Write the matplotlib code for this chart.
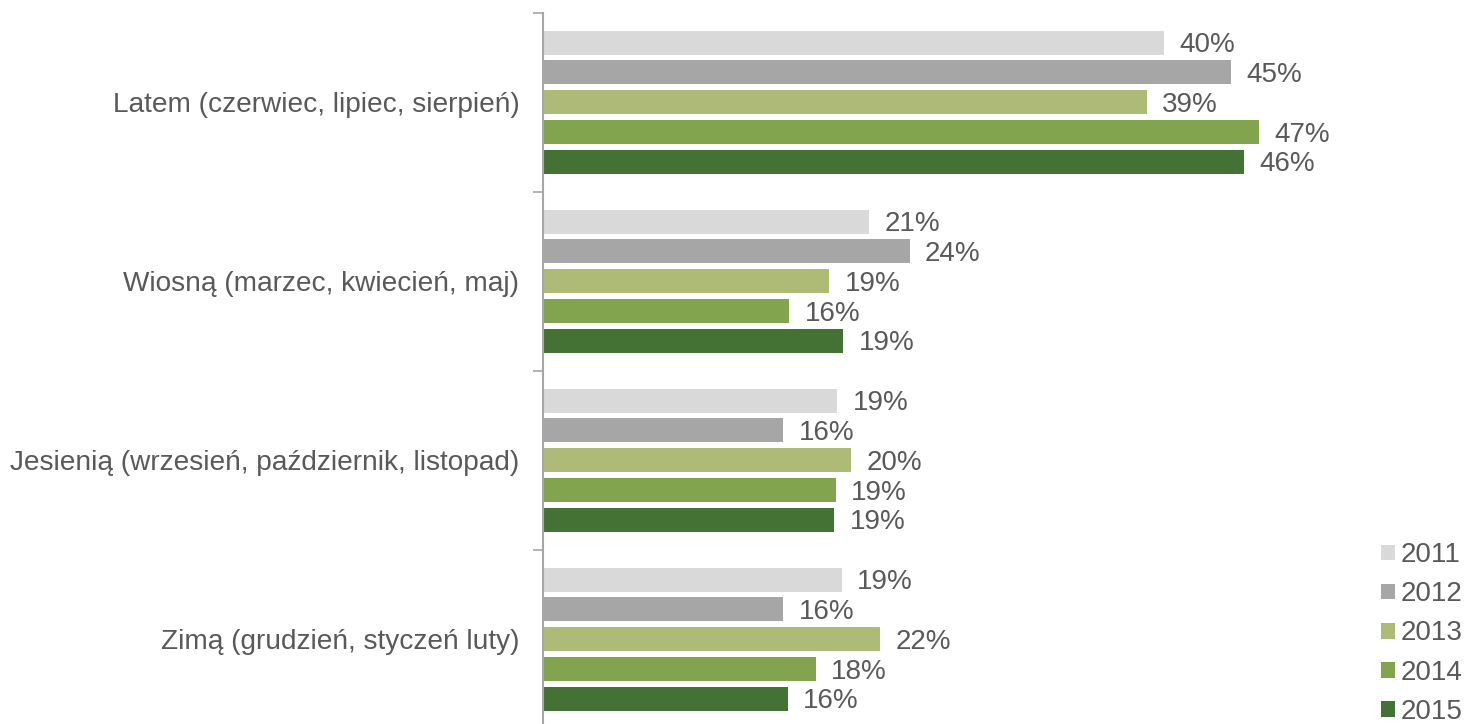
import matplotlib
matplotlib.use("Agg")
import matplotlib.pyplot as plt
from matplotlib.patches import Patch
import numpy as np

plt.rcParams["font.family"] = ["Liberation Sans", "DejaVu Sans"]

categories = [
    "Latem (czerwiec, lipiec, sierpień)",
    "Wiosną (marzec, kwiecień, maj)",
    "Jesienią (wrzesień, październik, listopad)",
    "Zimą (grudzień, styczeń luty)",
]
years = ["2011", "2012", "2013", "2014", "2015"]
# share of respondents (%), one list per year, categories in order above
v2011 = [40.3, 21.2, 19.1, 19.4]
v2012 = [44.7, 23.8, 15.6, 15.6]
v2013 = [39.2, 18.6, 20.0, 21.9]
v2014 = [46.5, 16.0, 19.0, 17.7]
v2015 = [45.5, 19.5, 18.9, 15.9]
# printed labels
l2011 = [40, 21, 19, 19]
l2012 = [45, 24, 16, 16]
l2013 = [39, 19, 20, 22]
l2014 = [47, 16, 19, 18]
l2015 = [46, 19, 19, 16]

colors = ["#d9d9d9", "#a6a6a6", "#aebb77", "#83a44f", "#447235"]
series = [v2011, v2012, v2013, v2014, v2015]
labels = [l2011, l2012, l2013, l2014, l2015]
text_color = "#595959"

fig = plt.figure(figsize=(14.68, 7.24), dpi=100)
ax = fig.add_axes([543 / 1468, -4.7 / 724, 770 / 1468, 716 / 724])

pitch = 29.75 / 179
height = 24 / 179
y0 = np.arange(len(categories))
for j, (vals, labs, c) in enumerate(zip(series, labels, colors)):
    ys = y0 + (j - 2) * pitch
    ax.barh(ys, vals, height=height, color=c, edgecolor="none")
    for y, v, lab in zip(ys, vals, labs):
        # nudge down a little so the digits sit centred on the bar
        ax.text(v + 1.0, y + 0.015, f"{lab}%", va="center", ha="left",
                fontsize=20, color=text_color)

ax.set_xlim(0, 50)
ax.set_ylim(len(categories) - 0.5, -0.5)
ax.set_xticks([])
ax.set_yticks(np.arange(-0.5, len(categories), 1.0))
ax.set_yticklabels([])
ax.set_yticks(y0, minor=True)
ax.set_yticklabels(categories, minor=True, fontsize=20.2, color=text_color)
ax.tick_params(axis="y", which="major", length=7, color="#a6a6a6", width=1.2)
ax.tick_params(axis="y", which="minor", length=0, pad=17)
for s in ["top", "right", "bottom"]:
    ax.spines[s].set_visible(False)
ax.spines["left"].set_color("#a6a6a6")
ax.spines["left"].set_linewidth(1.5)

handles = [Patch(facecolor=c, edgecolor="none", label=y) for y, c in zip(years, colors)]
fig.legend(handles=handles, loc="lower right", bbox_to_anchor=(1.0055, -0.02),
           frameon=False, fontsize=20, labelcolor=text_color,
           handlelength=0.5, handleheight=0.5, handletextpad=0.2,
           labelspacing=0.47, borderaxespad=0.1)

fig.savefig("out.png", dpi=100)
